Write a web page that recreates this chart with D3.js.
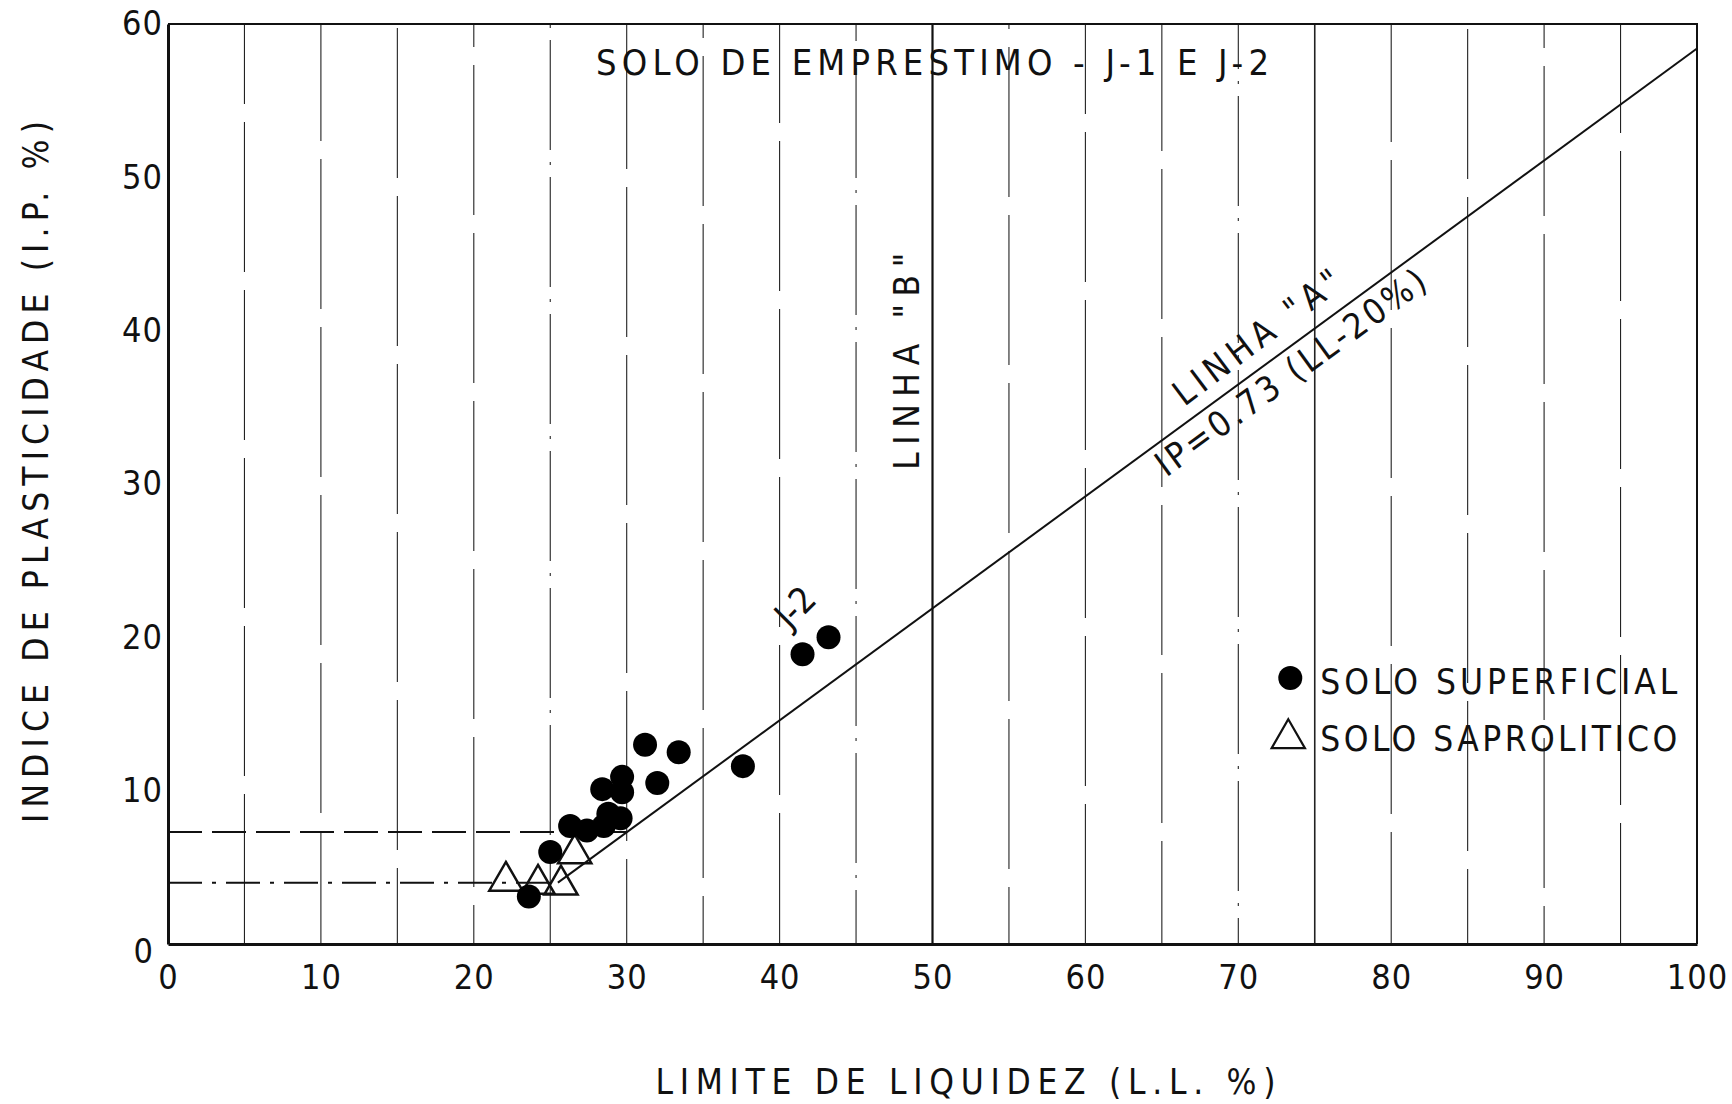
<!DOCTYPE html>
<html>
<head>
<meta charset="utf-8">
<script src="https://cdn.jsdelivr.net/npm/d3@7"></script>
<style>
    body { margin: 0; background: #fff; }
    svg { display: block; }
    text { font-family: "Liberation Sans Narrow", "DejaVu Sans Condensed", sans-serif; fill: #111; }
</style>
</head>
<body>
<svg id="chart"></svg>
<script>
// values
const llTicks = [0, 10, 20, 30, 40, 50, 60, 70, 80, 90, 100];
const ipTicks = [0, 10, 20, 30, 40, 50, 60];
const gridLL = [5, 10, 15, 20, 25, 30, 35, 40, 45, 55, 60, 65, 70, 75, 80, 85, 90, 95];
const lineB_LL = 50;

const aLineLL = [25.5, 100];
const aLineIP = [4.0, 58.4];

const dashLowLL = [0, 25.5];
const dashLowIP = [4.0, 4.0];
const dashHighLL = [0, 30];
const dashHighIP = [7.3, 7.3];

const superficialLL = [23.6, 25.0, 26.3, 27.4, 28.5, 28.8, 29.6, 28.4, 29.7, 29.7, 31.2, 32.0, 33.4, 37.6, 41.5, 43.2];
const superficialIP = [3.1, 6.0, 7.7, 7.4, 7.7, 8.5, 8.2, 10.1, 9.9, 10.9, 13.0, 10.5, 12.5, 11.6, 18.9, 20.0];

const saproliticoLL = [22.1, 24.2, 25.7, 26.6];
const saproliticoIP = [4.1, 3.9, 3.85, 5.9];

const width = 1732;
const height = 1104;
const margin = { top: 24, right: 35, bottom: 160, left: 168 };

const svg = d3.select("#chart")
    .attr("width", width)
    .attr("height", height);

const xScale = d3.scaleLinear()
    .domain([0, 100])
    .range([margin.left, width - margin.right]);

const yScale = d3.scaleLinear()
    .domain([0, 60])
    .range([height - margin.bottom, margin.top]);

// vertical grid, broken plotter style
const dashDot = [25, 45, 70];
svg.append("g")
    .selectAll("line")
    .data(gridLL)
    .enter()
    .append("line")
    .attr("x1", d => xScale(d))
    .attr("x2", d => xScale(d))
    .attr("y1", yScale(0))
    .attr("y2", yScale(60))
    .attr("stroke", "#222")
    .attr("stroke-width", d => d === 75 ? 1.6 : 1.1)
    .attr("stroke-dasharray", d => d === 75 ? null : dashDot.includes(d) ? "110,12,3,12" : "150,18")
    .attr("stroke-dashoffset", (d, i) => (i * 37) % 120);

// linha B
svg.append("line")
    .attr("x1", xScale(lineB_LL))
    .attr("x2", xScale(lineB_LL))
    .attr("y1", yScale(0))
    .attr("y2", yScale(60))
    .attr("stroke", "#111")
    .attr("stroke-width", 2.2);

// frame
const frame = d3.path();
frame.moveTo(xScale(0), yScale(60));
frame.lineTo(xScale(100), yScale(60));
frame.lineTo(xScale(100), yScale(0));
svg.append("path")
    .attr("d", frame.toString())
    .attr("fill", "none")
    .attr("stroke", "#111")
    .attr("stroke-width", 2);

// axes
const xAxis = svg.append("g")
    .attr("transform", `translate(0, ${yScale(0)})`)
    .call(d3.axisBottom(xScale).tickValues(llTicks).tickSize(0).tickPadding(21));

const yAxis = svg.append("g")
    .attr("transform", `translate(${xScale(0)}, 0)`)
    .call(d3.axisLeft(yScale).tickValues(ipTicks).tickSize(0).tickPadding(5));

[xAxis, yAxis].forEach(ax => {
    ax.select(".domain").attr("stroke", "#111").attr("stroke-width", 3);
    ax.selectAll("text")
        .attr("font-size", 34)
        .attr("font-family", "'Liberation Sans Narrow', 'DejaVu Sans Condensed', sans-serif")
        .attr("letter-spacing", 1)
        .attr("fill", "#111");
});
yAxis.selectAll(".tick")
    .filter(d => d === 0)
    .select("text")
    .attr("x", -14)
    .attr("dy", "0.55em");

// dashed limits
const line = d3.line()
    .x(d => xScale(d[0]))
    .y(d => yScale(d[1]));

[[dashLowLL, dashLowIP, "34,10,4,10"], [dashHighLL, dashHighIP, "34,10"]].forEach(([ll, ip, dash]) => {
    svg.append("path")
        .attr("d", line(d3.zip(ll, ip)))
        .attr("fill", "none")
        .attr("stroke", "#111")
        .attr("stroke-width", 2)
        .attr("stroke-dasharray", dash);
});

// linha A
svg.append("path")
    .attr("d", line(d3.zip(aLineLL, aLineIP)))
    .attr("fill", "none")
    .attr("stroke", "#111")
    .attr("stroke-width", 2);

// points
const triangle = d3.symbol().type(d3.symbolTriangle).size(480);

svg.append("g")
    .selectAll("path")
    .data(d3.zip(saproliticoLL, saproliticoIP))
    .enter()
    .append("path")
    .attr("d", triangle)
    .attr("transform", d => `translate(${xScale(d[0])}, ${yScale(d[1])})`)
    .attr("fill", "none")
    .attr("stroke", "#111")
    .attr("stroke-width", 2.5);

svg.append("g")
    .selectAll("circle")
    .data(d3.zip(superficialLL, superficialIP))
    .enter()
    .append("circle")
    .attr("cx", d => xScale(d[0]))
    .attr("cy", d => yScale(d[1]))
    .attr("r", 12)
    .attr("fill", "#000");

// labels
svg.append("text")
    .attr("x", xScale(50))
    .attr("y", yScale(57.5))
    .attr("dy", "0.36em")
    .attr("text-anchor", "middle")
    .attr("font-size", 36)
    .attr("textLength", 673)
    .attr("lengthAdjust", "spacing")
    .text("SOLO DE EMPRESTIMO - J-1 E J-2");

svg.append("text")
    .attr("x", (xScale(0) + xScale(100)) / 2 + 33)
    .attr("y", 1094)
    .attr("text-anchor", "middle")
    .attr("font-size", 35)
    .attr("textLength", 620)
    .attr("lengthAdjust", "spacing")
    .text("LIMITE DE LIQUIDEZ  (L.L. %)");

svg.append("text")
    .attr("transform", `translate(35, 472) rotate(-90)`)
    .attr("dy", "0.36em")
    .attr("text-anchor", "middle")
    .attr("font-size", 35)
    .attr("textLength", 702)
    .attr("lengthAdjust", "spacing")
    .text("INDICE DE PLASTICIDADE (I.P. %)");

svg.append("text")
    .attr("transform", `translate(${xScale(48.3)}, ${yScale(38.0)}) rotate(-90)`)
    .attr("dy", "0.36em")
    .attr("text-anchor", "middle")
    .attr("font-size", 35)
    .attr("textLength", 217)
    .attr("lengthAdjust", "spacing")
    .text("LINHA \"B\"");

svg.append("text")
    .attr("transform", `translate(${xScale(71.2)}, ${yScale(39.6)}) rotate(-37)`)
    .attr("dy", "0.36em")
    .attr("text-anchor", "middle")
    .attr("font-size", 35)
    .attr("textLength", 200)
    .attr("lengthAdjust", "spacing")
    .text("LINHA \"A\"");

svg.append("text")
    .attr("transform", `translate(${xScale(73.4)}, ${yScale(37.3)}) rotate(-36)`)
    .attr("dy", "0.36em")
    .attr("text-anchor", "middle")
    .attr("font-size", 35)
    .attr("textLength", 325)
    .attr("lengthAdjust", "spacing")
    .text("IP=0.73 (LL-20%)");

svg.append("text")
    .attr("transform", `translate(${xScale(41.0)}, ${yScale(22.0)}) rotate(-45)`)
    .attr("dy", "0.36em")
    .attr("text-anchor", "middle")
    .attr("font-size", 36)
    .text("J-2");

// legend
const legendX = xScale(73.4);
const legend = svg.append("g");
legend.append("circle")
    .attr("cx", legendX)
    .attr("cy", yScale(17.35))
    .attr("r", 12)
    .attr("fill", "#000");
legend.append("path")
    .attr("d", triangle)
    .attr("transform", `translate(${legendX - 2}, ${yScale(13.4)})`)
    .attr("fill", "none")
    .attr("stroke", "#111")
    .attr("stroke-width", 2.2);
[["SOLO SUPERFICIAL", 17.1], ["SOLO SAPROLITICO", 13.4]].forEach(([label, ip]) => {
    legend.append("text")
        .attr("x", legendX + 30)
        .attr("y", yScale(ip))
        .attr("dy", "0.36em")
        .attr("font-size", 35)
        .attr("textLength", 357)
        .attr("lengthAdjust", "spacing")
        .text(label);
});
</script>
</body>
</html>
